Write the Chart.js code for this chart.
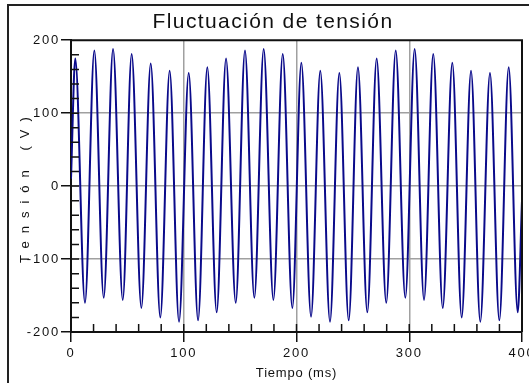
<!DOCTYPE html>
<html>
<head>
<meta charset="utf-8">
<script src="https://cdn.jsdelivr.net/npm/chart.js@4"></script>
<style>
  html, body { margin: 0; padding: 0; background: #fff; overflow: hidden; }
  #marco { position: absolute; left: 7px; top: 4px; width: 600px; height: 500px; border: 2px solid #222; }
  #lienzo { position: absolute; left: 0; top: 0; }
</style>
</head>
<body>
<div id="marco"></div>
<canvas id="lienzo" width="529" height="383"></canvas>
<script>
// Extremos de la onda (picos y valles)
const tiempoMs = [
    0, 3.8, 12.4, 20.7, 29.0, 37.3, 45.9, 53.8, 62.4, 70.7, 79.2, 87.5, 95.8,
    104.4, 112.7, 120.9, 129.2, 137.5, 146.1, 154.3, 162.6, 170.9, 179.5, 187.8, 196.3,
    204.3, 212.9, 221.1, 229.7, 238.0, 246.3, 254.5, 262.8, 271.1, 279.6, 288.0, 296.5,
    304.8, 313.1, 321.3, 329.7, 338.2, 346.5, 354.8, 363.0, 371.6, 379.9, 388.2, 396.2, 400
];
const tensionV = [
    10, 175, -160, 186, -153, 188, -156, 181, -167, 168, -180, 158, -186,
    155, -184, 163, -173, 175, -160, 186, -153, 188, -156, 181, -167,
    169, -179, 158, -186, 155, -184, 163, -173, 175, -160, 186, -153,
    188, -156, 181, -167, 169, -180, 158, -186, 155, -184, 163, -173, -20
];
const ticksX = [0, 100, 200, 300, 400];
const ticksY = [-200, -100, 0, 100, 200];

const fuente = "'Liberation Sans', Arial, sans-serif";

// Envuelve un método de dibujo para darle su propio espaciado de letras
function envolver(obj, metodo, esp, dx) {
    if (!obj || obj['_orig_' + metodo]) return;
    const orig = obj[metodo];
    obj['_orig_' + metodo] = orig;
    obj[metodo] = function (...args) {
        const c = this.ctx;
        c.save();
        c.letterSpacing = esp;
        if (dx) c.translate(dx, 0);
        orig.apply(this, args);
        c.restore();
    };
}

const espaciado = {
    id: 'espaciado',
    beforeDraw(chart) {
        chart.ctx.letterSpacing = '1.8px';
        envolver(chart.titleBlock, 'draw', '1.4px', 12);
        envolver(chart.scales.x, 'drawTitle', '0.8px');
        envolver(chart.scales.y, 'drawTitle', '8px');
    },
    afterDraw(chart) {
        const ctx = chart.ctx;
        const a = chart.chartArea;
        const sx = chart.scales.x, sy = chart.scales.y;
        ctx.save();
        ctx.strokeStyle = '#111';
        ctx.lineWidth = 1.5;
        // marcas menores hacia dentro
        ctx.beginPath();
        for (let v = 20; v < 400; v += 20) {
            const px = sx.getPixelForValue(v);
            ctx.moveTo(px, a.bottom);
            ctx.lineTo(px, a.bottom - 8);
        }
        for (let v = -180; v < 200; v += 20) {
            const py = sy.getPixelForValue(v);
            ctx.moveTo(a.left, py);
            ctx.lineTo(a.left + 8, py);
        }
        ctx.stroke();
        // borde superior y derecho
        ctx.lineWidth = 2;
        ctx.beginPath();
        ctx.moveTo(a.left, a.top);
        ctx.lineTo(a.right, a.top);
        ctx.lineTo(a.right, a.bottom);
        ctx.stroke();
        ctx.restore();
    }
};

const ctx = document.getElementById('lienzo').getContext('2d');
new Chart(ctx, {
    type: 'line',
    data: {
        datasets: [{
            label: 'Tensión',
            data: tiempoMs.map((t, i) => ({ x: t, y: tensionV[i] })),
            borderColor: '#0a0a8a',
            borderWidth: 2,
            pointRadius: 0,
            fill: false,
            cubicInterpolationMode: 'monotone'
        }]
    },
    options: {
        responsive: false,
        animation: false,
        layout: { padding: { left: 0, right: 7, top: 0, bottom: 0 } },
        plugins: {
            legend: { display: false },
            tooltip: { enabled: false },
            title: {
                display: true,
                text: 'Fluctuación de tensión',
                color: '#111',
                font: { family: fuente, size: 21, weight: 'normal' },
                padding: { top: 10, bottom: 5 }
            }
        },
        scales: {
            x: {
                type: 'linear',
                min: 0,
                max: 400,
                afterBuildTicks: s => { s.ticks = ticksX.map(v => ({ value: v })); },
                afterFit: s => { s.height = 51; s.paddingLeft = 0; s.paddingRight = 0; },
                ticks: { color: '#111', padding: 4, maxRotation: 0, autoSkip: false,
                         font: { family: fuente, size: 13 } },
                grid: {
                    color: c => (c.tick && c.tick.value > 0 && c.tick.value < 400) ? '#a0a0a0' : 'rgba(0,0,0,0)',
                    lineWidth: 1.5,
                    tickColor: '#111',
                    tickLength: 10,
                    tickWidth: 1.5
                },
                border: { color: '#111', width: 2 },
                title: { display: true, text: 'Tiempo (ms)', color: '#111',
                         font: { family: fuente, size: 13 }, padding: { top: 0, bottom: 2 } }
            },
            y: {
                min: -200,
                max: 200,
                afterBuildTicks: s => { s.ticks = ticksY.map(v => ({ value: v })); },
                afterFit: s => { s.width = 71; s.paddingTop = 0; s.paddingBottom = 0; },
                ticks: { color: '#111', padding: 1, font: { family: fuente, size: 13 } },
                grid: {
                    color: c => (c.tick && Math.abs(c.tick.value) < 200) ? '#a0a0a0' : 'rgba(0,0,0,0)',
                    lineWidth: 1.5,
                    tickColor: '#111',
                    tickLength: 10,
                    tickWidth: 1.5
                },
                border: { color: '#111', width: 2 },
                title: { display: true, text: 'Tensión (V)', color: '#111',
                         font: { family: fuente, size: 13 }, padding: { top: 18, bottom: 0 } }
            }
        }
    },
    plugins: [espaciado]
});
</script>
</body>
</html>
